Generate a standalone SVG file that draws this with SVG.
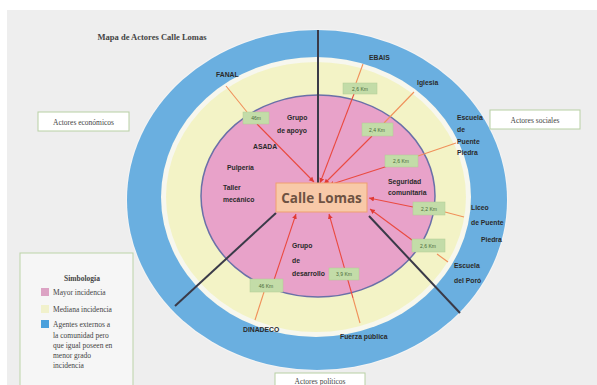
<svg xmlns="http://www.w3.org/2000/svg" width="597" height="385" viewBox="0 0 597 385">
<style>
.lbl{font-family:"Liberation Sans",Arial,sans-serif;font-size:6.8px;font-weight:bold;fill:#2a2a2a}
.ser{font-family:"Liberation Serif","Times New Roman",serif;fill:#444}
.dbox{fill:#c3dca8;stroke:#b0cc95;stroke-width:0.5}
.dtxt{font-family:"Liberation Sans",Arial,sans-serif;font-size:5px;fill:#4a6a3a;text-anchor:middle}
.red{stroke:#ea4a40;stroke-width:1.1;fill:none}
.org{stroke:#f0905a;stroke-width:1.1;fill:none}
.blk{stroke:#3a3a48;stroke-width:2;fill:none}
.abox{fill:#ffffff;stroke:#b8d0a4;stroke-width:1}
</style>
<defs>
<marker id="ah" markerWidth="6" markerHeight="6" refX="5" refY="3" orient="auto" markerUnits="userSpaceOnUse">
<path d="M0,0.5 L5,3 L0,5.5 Z" fill="#e03a35"/>
</marker>
</defs>
<rect width="597" height="385" fill="#ffffff"/>
<rect x="7" y="10" width="590" height="375" fill="#eeeeee"/>

<g id="rings">
<ellipse cx="317" cy="200" rx="191" ry="171" fill="#f4f4f4"/>
<ellipse cx="317" cy="200" rx="190" ry="170" fill="#6aafe0"/>
<ellipse cx="316" cy="197" rx="155" ry="140" fill="#f7f7ee"/>
<ellipse cx="316" cy="197" rx="150" ry="135" fill="#f3f3c6"/>
<ellipse cx="318" cy="196" rx="117" ry="101" fill="#e8a2c9" stroke="#6a70a8" stroke-width="1.5"/>
</g>

<g id="title">
<text class="ser" x="152" y="40" font-size="8.5" font-weight="bold" text-anchor="middle" fill="#333">Mapa de Actores Calle Lomas</text>
</g>

<g id="connectors">
<line class="blk" x1="318" y1="30" x2="318" y2="183"/>
<line class="blk" x1="276" y1="213" x2="175" y2="306"/>
<line class="blk" x1="369" y1="216" x2="460" y2="313"/>
<line class="org" x1="226" y1="86" x2="247" y2="112"/>
<line class="red" x1="257" y1="124" x2="314" y2="182" marker-end="url(#ah)"/>
<line class="org" x1="363" y1="64" x2="356" y2="83"/>
<line class="red" x1="354" y1="94" x2="320" y2="183" marker-end="url(#ah)"/>
<line class="org" x1="414" y1="92" x2="384" y2="123"/>
<line class="red" x1="372" y1="136" x2="324" y2="184" marker-end="url(#ah)"/>
<line class="org" x1="456" y1="143" x2="418" y2="156"/>
<line class="red" x1="388" y1="166" x2="329" y2="185" marker-end="url(#ah)"/>
<line class="org" x1="464" y1="217" x2="445" y2="212"/>
<line class="red" x1="413" y1="207" x2="369" y2="198" marker-end="url(#ah)"/>
<line class="org" x1="448" y1="262" x2="437" y2="254"/>
<line class="red" x1="412" y1="240" x2="370" y2="209" marker-end="url(#ah)"/>
<line class="org" x1="353" y1="298" x2="360" y2="323"/>
<line class="red" x1="353" y1="298" x2="329" y2="214" marker-end="url(#ah)"/>
<line class="org" x1="264" y1="292" x2="255" y2="320"/>
<line class="red" x1="274" y1="280" x2="296" y2="214" marker-end="url(#ah)"/>
</g>

<g id="center">
<rect x="276" y="183" width="91" height="29" fill="#f8c9a8" stroke="#ef9f70" stroke-width="1"/>
<text x="321.5" y="202.5" font-family="'Open Sans','Liberation Sans',sans-serif" font-size="13.5" font-weight="bold" fill="#6e5242" text-anchor="middle">Calle Lomas</text>
</g>

<g id="distances">
<rect class="dbox" x="243" y="112" width="26" height="12"/><text class="dtxt" x="256" y="120">46m</text>
<rect class="dbox" x="343" y="83" width="34" height="11"/><text class="dtxt" x="360" y="90.5">2,6 Km</text>
<rect class="dbox" x="362" y="123" width="31" height="13"/><text class="dtxt" x="377" y="131.5">2,4 Km</text>
<rect class="dbox" x="385" y="155" width="33" height="12"/><text class="dtxt" x="401" y="163">2,6 Km</text>
<rect class="dbox" x="413" y="202" width="32" height="13"/><text class="dtxt" x="429" y="210.5">2,2 Km</text>
<rect class="dbox" x="412" y="239" width="33" height="13"/><text class="dtxt" x="428" y="247.5">2,6 Km</text>
<rect class="dbox" x="329" y="268" width="30" height="12"/><text class="dtxt" x="344" y="276">3,9 Km</text>
<rect class="dbox" x="250" y="279" width="33" height="13"/><text class="dtxt" x="266" y="287.5">46 Km</text>
</g>

<g id="labels-external">
<text class="lbl" x="216" y="77">FANAL</text>
<text class="lbl" x="369" y="60">EBAIS</text>
<text class="lbl" x="417" y="85">Iglesia</text>
<text class="lbl" x="457" y="120">Escuela</text>
<text class="lbl" x="457" y="132">de</text>
<text class="lbl" x="457" y="144">Puente</text>
<text class="lbl" x="457" y="155">Piedra</text>
<text class="lbl" x="471" y="210">Liceo</text>
<text class="lbl" x="471" y="225">de Puente</text>
<text class="lbl" x="481" y="242">Piedra</text>
<text class="lbl" x="454" y="268">Escuela</text>
<text class="lbl" x="454" y="283">del Poró</text>
<text class="lbl" x="340" y="339">Fuerza pública</text>
<text class="lbl" x="243" y="332">DINADECO</text>
</g>

<g id="labels-internal">
<text class="lbl" x="287" y="120">Grupo</text>
<text class="lbl" x="277" y="133">de apoyo</text>
<text class="lbl" x="253" y="149">ASADA</text>
<text class="lbl" x="227" y="170">Pulpería</text>
<text class="lbl" x="223" y="190">Taller</text>
<text class="lbl" x="223" y="202">mecánico</text>
<text class="lbl" x="388" y="184">Seguridad</text>
<text class="lbl" x="388" y="195">comunitaria</text>
<text class="lbl" x="292" y="248">Grupo</text>
<text class="lbl" x="292" y="263">de</text>
<text class="lbl" x="292" y="276">desarrollo</text>
</g>

<g id="actores-economicos">
<rect class="abox" x="38" y="112" width="91" height="19"/>
<text class="ser" x="83.5" y="124.5" font-size="7.5" text-anchor="middle">Actores económicos</text>
</g>
<g id="actores-sociales">
<rect class="abox" x="490" y="110" width="90" height="19"/>
<text class="ser" x="535" y="122.5" font-size="7.5" text-anchor="middle">Actores sociales</text>
</g>
<g id="actores-politicos">
<rect class="abox" x="275" y="373" width="90" height="19"/>
<text class="ser" x="320" y="384" font-size="7.5" text-anchor="middle">Actores políticos</text>
</g>

<g id="legend">
<rect x="20" y="253" width="113" height="140" fill="#f6f6f6" stroke="#bcd3a8" stroke-width="1"/>
<text class="ser" x="82" y="281" font-size="7.5" font-weight="bold" text-anchor="middle" fill="#333">Simbología</text>
<rect x="41" y="288" width="8" height="8" fill="#dca3c4"/>
<text class="ser" x="53" y="295" font-size="7.5">Mayor incidencia</text>
<rect x="41" y="305" width="8" height="8" fill="#f1f1cc"/>
<text class="ser" x="53" y="312" font-size="7.5">Mediana incidencia</text>
<rect x="41" y="320" width="8" height="8" fill="#4aa0dc"/>
<text class="ser" x="53" y="327" font-size="7.5">Agentes externos a</text>
<text class="ser" x="53" y="338" font-size="7.5">la comunidad pero</text>
<text class="ser" x="53" y="348" font-size="7.5">que igual poseen en</text>
<text class="ser" x="53" y="358" font-size="7.5">menor grado</text>
<text class="ser" x="53" y="368" font-size="7.5">incidencia</text>
</g>
</svg>
